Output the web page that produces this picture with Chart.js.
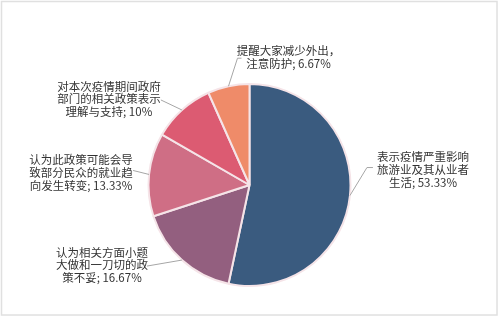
<!DOCTYPE html>
<html lang="zh">
<head>
  <meta charset="UTF-8">
  <title>疫情政策态度</title>
  <script src="https://cdn.jsdelivr.net/npm/chart.js"></script>
  <style>
    body { margin: 0; padding: 0; background: #fff; }
    #wrap { width: 499px; height: 324px; }
  </style>
</head>
<body>
  <div id="wrap"><canvas id="pie"></canvas></div>
  <script>
    // data
    const categories = [
      ["表示疫情严重影响", "旅游业及其从业者", "生活"],
      ["认为相关方面小题", "大做和一刀切的政", "策不妥"],
      ["认为此政策可能会导", "致部分民众的就业趋", "向发生转变"],
      ["对本次疫情期间政府", "部门的相关政策表示", "理解与支持"],
      ["提醒大家减少外出，", "注意防护"]
    ];
    const values = [53.33, 16.67, 13.33, 10, 6.67];
    const valueLabels = ["53.33%", "16.67%", "13.33%", "10%", "6.67%"];
    const colors = ["#3a5b7f", "#935f7f", "#cf6e85", "#dc5b72", "#ef8b69"];

    // leader line: elbow relative to slice edge, tail end relative to elbow,
    // text block centre relative to tail end
    const leader = [
      { elbow: [17, -28], tail: [6, 0], text: [50, 2] },
      { elbow: [-35, 6], tail: [0, 0], text: [-45, -1] },
      { elbow: [-16, -4], tail: [0, 0], text: [-52, 2] },
      { elbow: [-21, -10], tail: [0, 0], text: [-52, -1] },
      { elbow: [9, -28], tail: [4, 0], text: [47, -1] }
    ];

    const labelPlugin = {
      id: "pieLabels",
      afterDatasetsDraw(chart) {
        const ctx = chart.ctx;
        const arcs = chart.getDatasetMeta(0).data;
        ctx.save();
        ctx.font = "11.5px 'Noto Sans CJK SC', sans-serif";
        ctx.textAlign = "center";
        ctx.textBaseline = "middle";
        arcs.forEach((arc, i) => {
          const mid = (arc.startAngle + arc.endAngle) / 2;
          const ex = arc.x + Math.cos(mid) * arc.outerRadius;
          const ey = arc.y + Math.sin(mid) * arc.outerRadius;
          const L = leader[i];
          const bx = ex + L.elbow[0], by = ey + L.elbow[1];
          const tx = bx + L.tail[0], ty = by + L.tail[1];
          ctx.strokeStyle = "#a6a6a6";
          ctx.lineWidth = 1;
          ctx.beginPath();
          ctx.moveTo(ex, ey);
          ctx.lineTo(bx, by);
          ctx.lineTo(tx, ty);
          ctx.stroke();
          const lines = categories[i].slice();
          const last = lines.length - 1;
          lines[last] = lines[last] + "; " + valueLabels[i];
          const lh = 12.8;
          const cx = tx + L.text[0];
          const cy = ty + L.text[1];
          ctx.fillStyle = "#333333";
          lines.forEach((t, k) => {
            ctx.fillText(t, cx, cy + (k - (lines.length - 1) / 2) * lh);
          });
        });
        ctx.restore();
      }
    };

    const framePlugin = {
      id: "frame",
      afterDraw(chart) {
        const ctx = chart.ctx;
        ctx.save();
        ctx.strokeStyle = "#e0e0e0";
        ctx.lineWidth = 1.5;
        ctx.strokeRect(1.5, 1.5, 495.5, 313.5);
        ctx.restore();
      }
    };

    new Chart(document.getElementById("pie"), {
      type: "pie",
      data: {
        labels: categories.map(c => c.join("")),
        datasets: [{
          data: values,
          backgroundColor: colors,
          borderColor: "#f5e4e8",
          borderWidth: 2
        }]
      },
      options: {
        responsive: true,
        maintainAspectRatio: false,
        animation: false,
        layout: { padding: { top: 83, bottom: 37, left: 0, right: 0 } },
        plugins: {
          legend: { display: false },
          tooltip: { enabled: false }
        }
      },
      plugins: [labelPlugin, framePlugin]
    });
  </script>
</body>
</html>
